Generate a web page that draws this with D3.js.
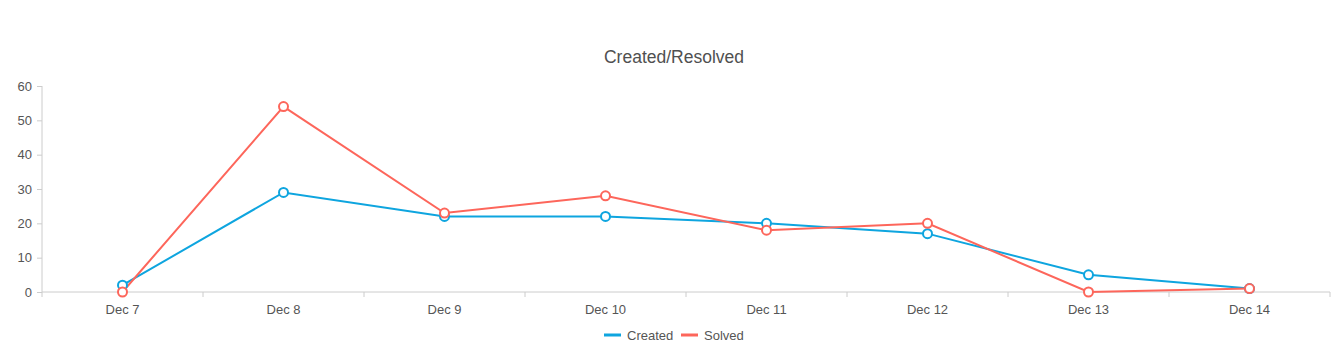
<!DOCTYPE html>
<html><head><meta charset="utf-8">
<script src="https://cdn.jsdelivr.net/npm/d3@7"></script>
<style>body{margin:0;background:#fff;font-family:"Liberation Sans",Arial,sans-serif;}</style>
</head><body><svg id="c" width="1343" height="357"></svg>
<script>
const categories = ["Dec 7","Dec 8","Dec 9","Dec 10","Dec 11","Dec 12","Dec 13","Dec 14"];
const created = [2,29,22,22,20,17,5,1];
const solved = [0,54,23,28,18,20,0,1];
const yTicks = [0,10,20,30,40,50,60];
const seriesNames = ["Created","Solved"];
const colors = ["#0ea5df","#fd665b"];

const svg = d3.select("#c");
const x = d3.scaleBand().domain(categories).range([42,1330]);
const y = d3.scaleLinear().domain([0,60]).range([292,86]);

svg.append("text").attr("x",674).attr("y",63).attr("text-anchor","middle")
  .attr("font-size",17.5).attr("fill","#505050").text("Created/Resolved");

// y axis
const ya = svg.append("g").attr("transform","translate(42,0)")
  .call(d3.axisLeft(y).tickValues(yTicks).tickSize(5).tickPadding(5));
ya.select(".domain").attr("stroke","#ccc").attr("d","M0,86V292");
ya.selectAll(".tick line").attr("stroke","#ccc");
ya.selectAll("text").attr("font-size",13).attr("fill","#555").attr("font-family","Liberation Sans, Arial, sans-serif");

// x axis
const xa = svg.append("g").attr("transform","translate(0,292)")
  .call(d3.axisBottom(x).tickSize(0).tickPadding(13));
xa.select(".domain").attr("stroke","#ccc").attr("d","M42,0H1330");
xa.selectAll("text").attr("font-size",13).attr("fill","#555").attr("font-family","Liberation Sans, Arial, sans-serif");
const bounds = categories.map(c=>x(c)).concat([1330]);
xa.selectAll(".bt").data(bounds).enter().append("line")
  .attr("x1",d=>d).attr("x2",d=>d).attr("y1",0).attr("y2",5).attr("stroke","#ccc");

const cx = c => x(c)+x.bandwidth()/2;
[created,solved].forEach((vals,i)=>{
  const line = d3.line().x((d,j)=>cx(categories[j])).y(d=>y(d));
  svg.append("path").datum(vals).attr("d",line).attr("fill","none")
    .attr("stroke",colors[i]).attr("stroke-width",2);
});
[created,solved].forEach((vals,i)=>{
  svg.append("g").selectAll("circle").data(vals).enter().append("circle")
    .attr("cx",(d,j)=>cx(categories[j])).attr("cy",d=>y(d)).attr("r",4.5)
    .attr("fill","#fff").attr("stroke",colors[i]).attr("stroke-width",2);
});

// legend
const lg = svg.append("g");
const items = [{n:seriesNames[0],c:colors[0],x:604},{n:seriesNames[1],c:colors[1],x:681}];
items.forEach(it=>{
  lg.append("line").attr("x1",it.x).attr("x2",it.x+17).attr("y1",335).attr("y2",335)
    .attr("stroke",it.c).attr("stroke-width",3);
  lg.append("text").attr("x",it.x+23).attr("y",339.5).attr("font-size",13).attr("fill","#555").text(it.n);
});
</script></body></html>
